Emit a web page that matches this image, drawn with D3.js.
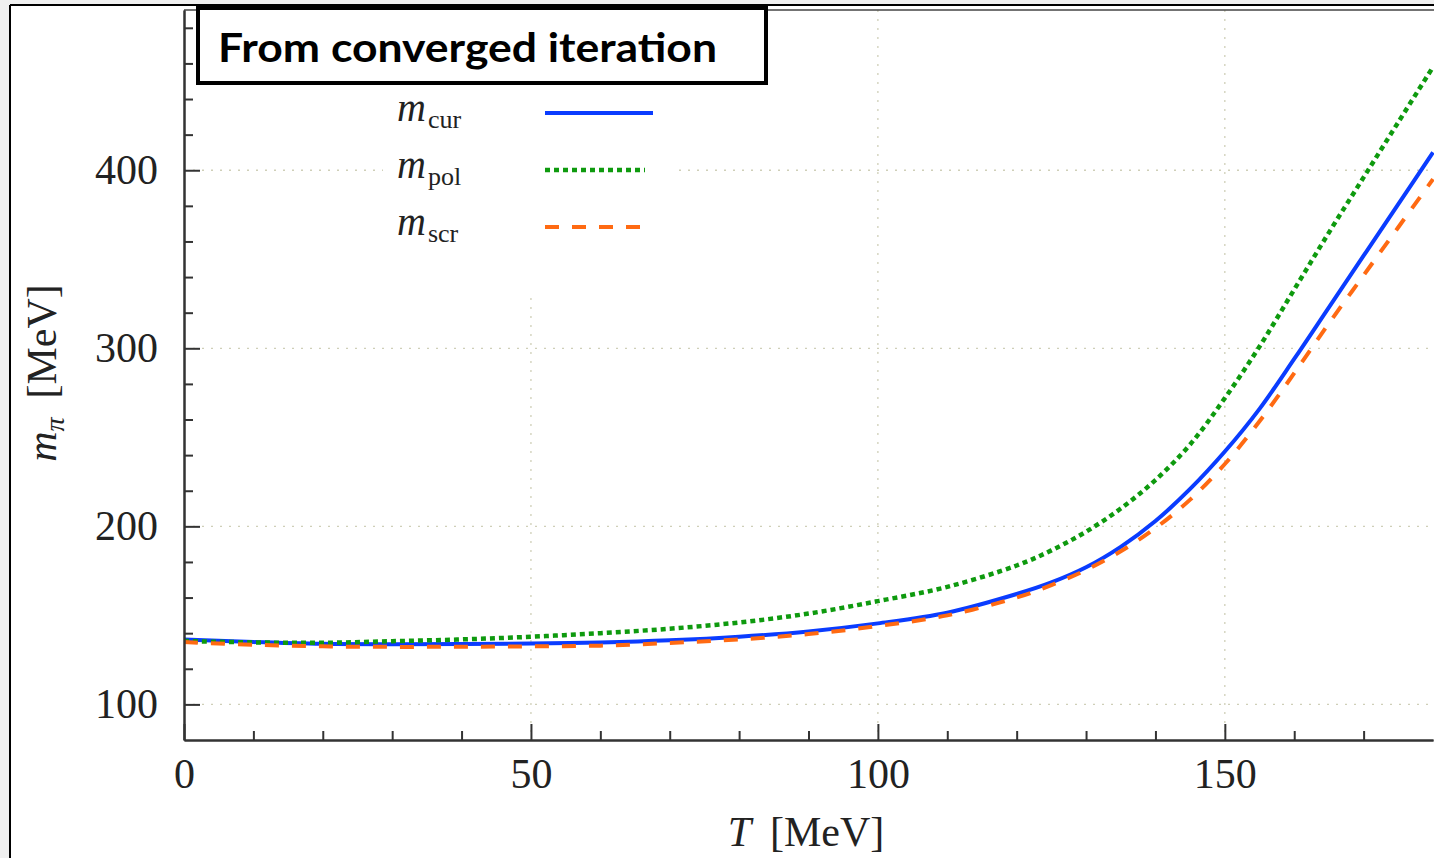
<!DOCTYPE html>
<html>
<head>
<meta charset="utf-8">
<script src="https://cdn.jsdelivr.net/npm/d3@7"></script>
<style>
body { margin:0; background:#f0f0f0; }
svg { display:block; }
.tick text { font-family:"Liberation Serif", serif; font-size:42px; fill:#222; }
.axis path, .axis line { stroke:#333; stroke-width:2; }
.label { font-family:"Liberation Serif", serif; font-size:42px; fill:#222; }
.legend text { font-family:"Liberation Serif", serif; fill:#222; }
</style>
</head>
<body>
<svg class="graph1"></svg>
<script>
// temperature grid (MeV)
var temps = [0,10,20,30,40,50,60,70,80,90,100,110,120,125,130,135,140,145,150,155,160,165,170,175,180];
// pion masses (MeV)
var mCur = [136.5,135,134,133.8,133.9,134.2,134.8,136,138,141,145.5,151.5,162,168.5,177,188.5,203,221,242,266,294,323,352,381,410];
var mPol = [135.6,134.8,134.6,135.5,136.5,138,140,142.5,146,151,158,166,178,186.5,197,210,226,246,272,301,333,365,396,427,458];
var mScr = [135,133.5,132.6,132.3,132.4,132.6,133,134.5,136.5,139.5,144,150,160,167,175.5,186,199,215,235,259,286,314,341,368,395];

var xMajor = [0,50,100,150];
var xMinor = [10,20,30,40,60,70,80,90,110,120,130,140,160,170];
var yMajor = [100,200,300,400];
var yMinor = [120,140,160,180,220,240,260,280,320,340,360,380,420,440,460,480];

var seriesNames = ["cur","pol","scr"];
var seriesColors = ["#0a3cff","#0e9a0e","#ff6a12"];
var seriesDash = ["none","5,4","14,13"];
var seriesWidth = [4,4.5,4];
var legendEnd = [653,645,653];

var screen = {width:1434,height:858};
var plot = {left:184,right:1433,top:10,bottom:740};

var svg = d3.select(".graph1")
    .attr("width",screen.width)
    .attr("height",screen.height);

// screenshot frame
svg.append("rect")
    .attr("x",11).attr("y",6)
    .attr("width",screen.width).attr("height",screen.height)
    .attr("fill","white");
svg.append("line")
    .attr("x1",10).attr("x2",10).attr("y1",5).attr("y2",screen.height)
    .attr("stroke","black").attr("stroke-width",2);
svg.append("line")
    .attr("x1",10).attr("x2",screen.width).attr("y1",5).attr("y2",5)
    .attr("stroke","black").attr("stroke-width",2);

var xScale = d3.scaleLinear()
    .domain([0,180])
    .range([plot.left,plot.right]);

var yScale = d3.scaleLinear()
    .domain([80,490])
    .range([plot.bottom,plot.top]);

// grid
var grid = svg.append("g")
    .attr("stroke","#cfcfb8")
    .attr("stroke-width",1.3)
    .attr("stroke-dasharray","2,7");
grid.selectAll(".gx")
    .data(xMajor.slice(1))
    .enter()
    .append("line")
    .attr("x1",function(d){return xScale(d);})
    .attr("x2",function(d){return xScale(d);})
    .attr("y1",plot.top)
    .attr("y2",plot.bottom);
grid.selectAll(".gy")
    .data(yMajor)
    .enter()
    .append("line")
    .attr("x1",plot.left)
    .attr("x2",screen.width)
    .attr("y1",function(d){return yScale(d);})
    .attr("y2",function(d){return yScale(d);});

// plot top border
svg.append("line")
    .attr("x1",plot.left).attr("x2",screen.width)
    .attr("y1",plot.top).attr("y2",plot.top)
    .attr("stroke","#444").attr("stroke-width",1.5);

// curves
svg.append("clipPath")
    .attr("id","clip")
    .append("rect")
    .attr("x",plot.left).attr("y",plot.top)
    .attr("width",screen.width-plot.left).attr("height",plot.bottom-plot.top);

var line = d3.line()
    .x(function(d){return xScale(d[0]);})
    .y(function(d){return yScale(d[1]);})
    .curve(d3.curveCatmullRom.alpha(0.5));

var allSeries = [mCur,mPol,mScr];
svg.append("g")
    .attr("clip-path","url(#clip)")
    .selectAll("path")
    .data(allSeries)
    .enter()
    .append("path")
    .attr("d",function(s){return line(temps.map(function(t,i){return [t,s[i]];}));})
    .attr("fill","none")
    .attr("stroke",function(s,i){return seriesColors[i];})
    .attr("stroke-width",function(s,i){return seriesWidth[i];})
    .attr("stroke-dasharray",function(s,i){return seriesDash[i];});

// axes
svg.append("g")
    .classed("axis",true)
    .attr("transform","translate(0,"+plot.bottom+")")
    .call(d3.axisBottom(xScale).tickValues(xMinor).tickSize(-9).tickSizeOuter(0).tickFormat(""));
svg.append("g")
    .classed("axis",true)
    .attr("transform","translate(0,"+plot.bottom+")")
    .call(d3.axisBottom(xScale).tickValues(xMajor).tickSize(-16).tickSizeOuter(0).tickPadding(18));

svg.append("g")
    .classed("axis",true)
    .attr("transform","translate("+plot.left+",0)")
    .call(d3.axisLeft(yScale).tickValues(yMinor).tickSize(-9).tickSizeOuter(0).tickFormat(""));
svg.append("g")
    .classed("axis",true)
    .attr("transform","translate("+plot.left+",0)")
    .call(d3.axisLeft(yScale).tickValues(yMajor).tickSize(-16).tickSizeOuter(0).tickPadding(26));

// axis labels
var xl = svg.append("text")
    .classed("label",true)
    .attr("text-anchor","middle")
    .attr("x",806)
    .attr("y",846);
xl.append("tspan").attr("font-style","italic").text("T");
xl.append("tspan").text("\u2009 [MeV]");

var yl = svg.append("text")
    .classed("label",true)
    .attr("text-anchor","middle")
    .attr("transform","translate(56,373) rotate(-90)");
yl.append("tspan").attr("font-style","italic").text("m");
yl.append("tspan").attr("font-style","italic").attr("font-size","28px").attr("dy",8).text("\u03c0");
yl.append("tspan").attr("dy",-8).text("\u2009 [MeV]");

// legend
var legend = svg.append("g").classed("legend",true);
legend.append("rect")
    .attr("x",383).attr("y",88)
    .attr("width",290).attr("height",210)
    .attr("fill","white");

var legendY = [113,170,227];
var entries = legend.selectAll(".entry")
    .data(seriesNames)
    .enter()
    .append("g");
var lt = entries.append("text")
    .attr("x",397)
    .attr("y",function(d,i){return legendY[i]+8;});
lt.append("tspan").attr("font-style","italic").attr("font-size","40px").text("m");
lt.append("tspan").attr("font-size","26px").attr("dx",2).attr("dy",7).text(function(d){return d;});
entries.append("line")
    .attr("x1",545)
    .attr("x2",function(d,i){return legendEnd[i];})
    .attr("y1",function(d,i){return legendY[i];})
    .attr("y2",function(d,i){return legendY[i];})
    .attr("stroke",function(d,i){return seriesColors[i];})
    .attr("stroke-width",function(d,i){return seriesWidth[i];})
    .attr("stroke-dasharray",function(d,i){return seriesDash[i];});

// title box
svg.append("rect")
    .attr("x",198).attr("y",8)
    .attr("width",568).attr("height",75)
    .attr("fill","white")
    .attr("stroke","black")
    .attr("stroke-width",4);
svg.append("text")
    .attr("x",218)
    .attr("y",62)
    .attr("font-family","Lato, sans-serif")
    .attr("font-weight","bold")
    .attr("font-size","41px")
    .attr("textLength",499)
    .attr("lengthAdjust","spacingAndGlyphs")
    .text("From converged iteration");
</script>
</body>
</html>
